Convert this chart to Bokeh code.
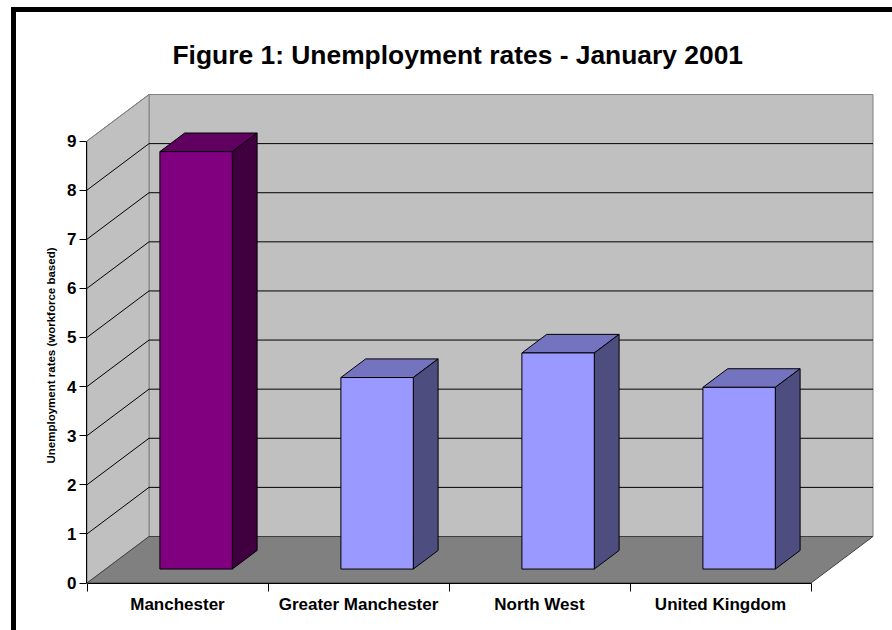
from bokeh.embed import file_html
from bokeh.models import FixedTicker, Range1d, Title
from bokeh.plotting import figure
from bokeh.resources import INLINE

# Chart data
categories = ["Manchester", "Greater Manchester", "North West", "United Kingdom"]
rates = [8.5, 3.9, 4.4, 3.7]
face_colors = ["#800080", "#9999ff", "#9999ff", "#9999ff"]
top_colors = ["#600060", "#7373bf", "#7373bf", "#7373bf"]
side_colors = ["#400040", "#4d4d80", "#4d4d80", "#4d4d80"]
value_ticks = [0, 1, 2, 3, 4, 5, 6, 7, 8, 9]

TITLE = "Figure 1: Unemployment rates - January 2001"
Y_LABEL = "Unemployment rates (workforce based)"
FONT = "Liberation Sans"

# Oblique projection of the chart's depth axis, in category and value units
PX_PER_CATEGORY = 181.0
PX_PER_VALUE = 49.11
DEPTH_X = 62.0 / PX_PER_CATEGORY
DEPTH_Y = 46.5 / PX_PER_VALUE
BAR_WIDTH = 0.4
BAR_NEAR = 0.3
BAR_FAR = 0.7
Y_TOP = value_ticks[-1]
N = len(categories)


def project(x, y, depth):
    return x + depth * DEPTH_X, y + depth * DEPTH_Y


def polygon(corners):
    points = [project(*c) for c in corners]
    return [pt[0] for pt in points], [pt[1] for pt in points]


FRAME_LEFT, FRAME_RIGHT, FRAME_TOP, FRAME_BOTTOM = 86, 874, 93, 583

p = figure(
    width=892,
    height=630,
    output_backend="svg",
    toolbar_location=None,
    x_range=Range1d((FRAME_LEFT - 86.5) / PX_PER_CATEGORY, (FRAME_RIGHT - 86.5) / PX_PER_CATEGORY),
    y_range=Range1d((582.5 - FRAME_BOTTOM) / PX_PER_VALUE, (582.5 - FRAME_TOP) / PX_PER_VALUE),
    min_border_left=FRAME_LEFT,
    min_border_right=892 - FRAME_RIGHT,
    min_border_top=FRAME_TOP,
    min_border_bottom=630 - FRAME_BOTTOM,
    background_fill_color="white",
    border_fill_color=None,
    outline_line_color=None,
)
p.grid.visible = False

# Heavy rule along the page's top and left edges, painted behind the transparent canvas
RULE = "linear-gradient(black, black)"
p.styles = {
    "background": f"{RULE} 11px 7px / 881px 5px no-repeat, {RULE} 11px 7px / 5px 623px no-repeat, white",
}

# Back wall, side wall and floor
xs, ys = polygon([(0, 0, 1), (N, 0, 1), (N, Y_TOP, 1), (0, Y_TOP, 1)])
p.patch(xs, ys, fill_color="#c0c0c0", line_color="#808080", line_width=1)
xs, ys = polygon([(0, 0, 0), (0, 0, 1), (0, Y_TOP, 1), (0, Y_TOP, 0)])
p.patch(xs, ys, fill_color="#c0c0c0", line_color="#808080", line_width=1)

# Gridlines wrap from the side wall across the back wall
grid_xs, grid_ys = [], []
for v in value_ticks[1:-1]:
    a = project(0, v, 0)
    b = project(0, v, 1)
    c = project(N, v, 1)
    grid_xs.append([a[0], b[0], c[0]])
    grid_ys.append([a[1], b[1], c[1]])
p.multi_line(grid_xs, grid_ys, line_color="black", line_width=1)
a, b = project(0, Y_TOP, 0), project(0, Y_TOP, 1)
p.line([a[0], b[0]], [a[1], b[1]], line_color="#808080", line_width=1)

xs, ys = polygon([(0, 0, 0), (N, 0, 0), (N, 0, 1), (0, 0, 1)])
p.patch(xs, ys, fill_color="#808080", line_color="#404040", line_width=1)

# Bars: top, side and front faces
for i, rate in enumerate(rates):
    left = i + 0.5 - BAR_WIDTH / 2
    right = i + 0.5 + BAR_WIDTH / 2
    xs, ys = polygon([(left, rate, BAR_NEAR), (right, rate, BAR_NEAR), (right, rate, BAR_FAR), (left, rate, BAR_FAR)])
    p.patch(xs, ys, fill_color=top_colors[i], line_color="black", line_width=1)
    xs, ys = polygon([(right, 0, BAR_NEAR), (right, 0, BAR_FAR), (right, rate, BAR_FAR), (right, rate, BAR_NEAR)])
    p.patch(xs, ys, fill_color=side_colors[i], line_color="black", line_width=1)
    xs, ys = polygon([(left, 0, BAR_NEAR), (right, 0, BAR_NEAR), (right, rate, BAR_NEAR), (left, rate, BAR_NEAR)])
    p.patch(xs, ys, fill_color=face_colors[i], line_color="black", line_width=1)

# Value axis
ya = p.yaxis[0]
ya.ticker = FixedTicker(ticks=value_ticks)
ya.bounds = (0, Y_TOP)
ya.axis_line_color = "black"
ya.major_tick_line_color = "black"
ya.major_tick_out = 7
ya.major_tick_in = 0
ya.minor_tick_out = 0
ya.minor_tick_in = 0
ya.major_label_standoff = 3
ya.major_label_text_font = FONT
ya.major_label_text_font_style = "bold"
ya.major_label_text_font_size = "17px"
ya.major_label_text_color = "black"

# Category axis: labels sit mid-category, ticks mark the category edges
xa = p.xaxis[0]
xa.ticker = FixedTicker(ticks=[i + 0.5 for i in range(N)], minor_ticks=list(range(N + 1)))
xa.major_label_overrides = {i + 0.5: name for i, name in enumerate(categories)}
xa.bounds = (0, N)
xa.axis_line_color = "black"
xa.major_tick_out = 0
xa.major_tick_in = 0
xa.minor_tick_line_color = "black"
xa.minor_tick_out = 8
xa.minor_tick_in = 0
xa.major_label_standoff = 3
xa.major_label_text_font = FONT
xa.major_label_text_font_style = "bold"
xa.major_label_text_font_size = "17px"
xa.major_label_text_color = "black"

# Heading and rotated value-axis title
p.add_layout(Title(
    text=TITLE, align="left", offset=86, standoff=48,
    text_font=FONT, text_font_style="bold", text_font_size="26.4px", text_color="black",
), "above")
p.add_layout(Title(
    text=Y_LABEL, align="left", offset=120, standoff=16,
    text_font=FONT, text_font_style="bold", text_font_size="11.5px", text_color="black",
), "left")

open("out.html", "w").write(file_html(p, INLINE))
